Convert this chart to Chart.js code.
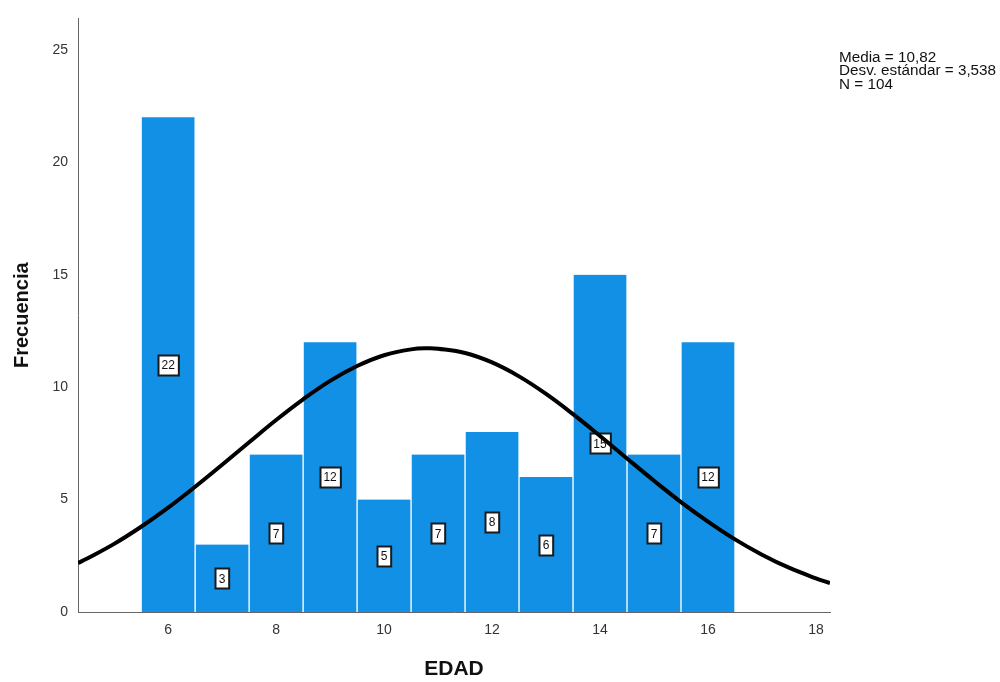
<!DOCTYPE html>
<html>
<head>
<meta charset="utf-8">
<script src="https://cdn.jsdelivr.net/npm/chart.js@4/dist/chart.umd.min.js"></script>
<style>
  html, body { margin: 0; padding: 0; background: #fff; }
  #wrap { width: 1000px; height: 682px; }
</style>
</head>
<body>
<div id="wrap"><canvas id="histChart" width="1000" height="682"></canvas></div>
<script>
// histogram bins (EDAD) and counts
const edades = [6, 7, 8, 9, 10, 11, 12, 13, 14, 15, 16];
const frecuencias = [22, 3, 7, 12, 5, 7, 8, 6, 15, 7, 12];

// normal curve
const curvaX = [4.33, 4.5, 5, 5.5, 6, 6.5, 7, 7.5, 8, 8.5, 9, 9.5, 10, 10.5, 10.82, 11, 11.5, 12, 12.5, 13, 13.5, 14, 14.5, 15, 15.5, 16, 16.5, 17, 17.5, 18, 18.26];
const curvaY = [2.18, 2.38, 3.03, 3.79, 4.64, 5.57, 6.55, 7.55, 8.54, 9.46, 10.28, 10.94, 11.42, 11.68, 11.73, 11.71, 11.52, 11.10, 10.48, 9.70, 8.80, 7.83, 6.83, 5.84, 4.89, 4.02, 3.23, 2.55, 1.97, 1.50, 1.29];

const xTicks = [6, 8, 10, 12, 14, 16, 18];
const yTicks = [0, 5, 10, 15, 20, 25];
const stats = ['Media = 10,82', 'Desv. estándar = 3,538', 'N = 104'];

const barData = edades.map((e, i) => ({ x: e, y: frecuencias[i] }));
const lineData = curvaX.map((x, i) => ({ x: x, y: curvaY[i] }));

// little white boxes with the count in the middle of each bar
const barLabels = {
  id: 'barLabels',
  afterDatasetDraw(chart, args) {
    if (args.index !== 1) return;
    const ctx = chart.ctx;
    const meta = chart.getDatasetMeta(1);
    ctx.save();
    ctx.font = '12px "Liberation Sans", Arial, sans-serif';
    ctx.textAlign = 'center';
    ctx.textBaseline = 'middle';
    meta.data.forEach((bar, i) => {
      const txt = String(frecuencias[i]);
      const cy = chart.scales.y.getPixelForValue(frecuencias[i] / 2);
      const w = ctx.measureText(txt).width + 7;
      const h = 20;
      const x0 = Math.round(bar.x - w / 2) + 0.5;
      const y0 = Math.round(cy - h / 2) + 0.5;
      ctx.fillStyle = '#fff';
      ctx.fillRect(x0, y0, w, h);
      ctx.strokeStyle = '#1a1a1a';
      ctx.lineWidth = 2;
      ctx.strokeRect(x0, y0, w, h);
      ctx.fillStyle = '#111';
      ctx.fillText(txt, bar.x, cy + 1);
    });
    ctx.restore();
  }
};

// stats block, top right (text a bit stretched like the original)
const statsText = {
  id: 'statsText',
  afterDraw(chart) {
    const ctx = chart.ctx;
    const sx = 1.09;
    ctx.save();
    ctx.scale(sx, 1);
    ctx.font = '14px "Liberation Sans", Arial, sans-serif';
    ctx.fillStyle = '#111';
    ctx.textAlign = 'left';
    ctx.textBaseline = 'middle';
    stats.forEach((s, i) => ctx.fillText(s, 839 / sx, 58 + i * 13.5));
    ctx.restore();
  }
};

Chart.defaults.font.family = '"Liberation Sans", Arial, sans-serif';

const ctx = document.getElementById('histChart').getContext('2d');
new Chart(ctx, {
  type: 'bar',
  data: {
    datasets: [
      {
        type: 'line',
        data: lineData,
        borderColor: '#000',
        borderWidth: 4,
        pointRadius: 0,
        tension: 0.4,
        fill: false,
        order: 0
      },
      {
        type: 'bar',
        data: barData,
        backgroundColor: '#1290e6',
        borderColor: '#ffffff',
        borderWidth: { left: 1, right: 1, top: 0, bottom: 0 },
        barPercentage: 1,
        categoryPercentage: 1,
        order: 1
      }
    ]
  },
  options: {
    responsive: false,
    animation: false,
    layout: { padding: { left: 0, right: 170, top: 18, bottom: 0 } },
    plugins: {
      legend: { display: false },
      tooltip: { enabled: false }
    },
    scales: {
      x: {
        type: 'linear',
        offset: false,
        min: 4.33,
        max: 18.26,
        grid: { display: false, drawTicks: false, offset: false },
        border: { color: '#666', width: 1 },
        afterBuildTicks: (s) => { s.ticks = xTicks.map(v => ({ value: v })); },
        afterFit: (s) => { s.height = 70; },
        ticks: { color: '#333', font: { size: 14 }, padding: 10 },
        title: {
          display: true,
          text: 'EDAD',
          color: '#111',
          font: { size: 21, weight: 'bold' },
          padding: { top: 0, bottom: 0 }
        }
      },
      y: {
        min: 0,
        max: 26.4,
        grid: { display: false, drawTicks: false },
        border: { color: '#666', width: 1 },
        afterBuildTicks: (s) => { s.ticks = yTicks.map(v => ({ value: v })); },
        afterFit: (s) => { s.width = 78; },
        ticks: { color: '#333', font: { size: 14 }, padding: 10 },
        title: {
          display: true,
          text: 'Frecuencia',
          color: '#111',
          font: { size: 20, weight: 'bold' },
          padding: { top: 10, bottom: 0 }
        }
      }
    }
  },
  plugins: [barLabels, statsText]
});
</script>
</body>
</html>
